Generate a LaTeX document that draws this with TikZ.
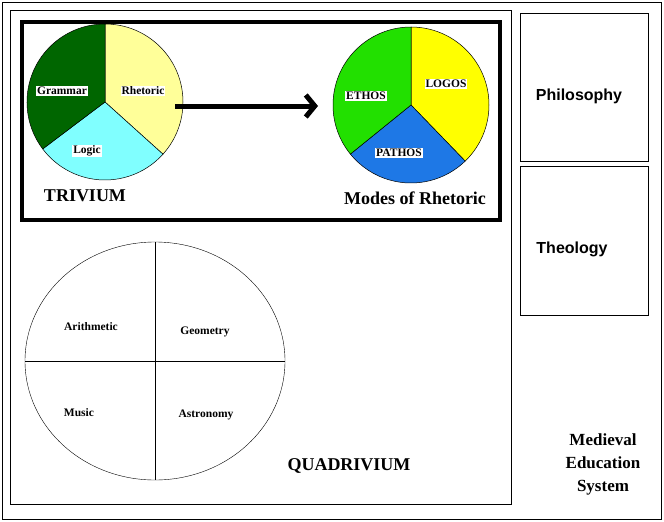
\documentclass[tikz,border=0pt]{standalone}
\usepackage{fontspec}
\setmainfont{Liberation Serif}
\setsansfont{Liberation Sans}
\usetikzlibrary{arrows.meta}
\definecolor{gram}{HTML}{006600}
\definecolor{rhet}{HTML}{FFFF99}
\definecolor{logi}{HTML}{80FFFF}
\definecolor{etho}{HTML}{22E000}
\definecolor{logo}{HTML}{FFFF00}
\definecolor{path}{HTML}{1E78E6}
\tikzset{
	lbl/.style={fill=white, inner sep=1pt, font=\bfseries\fontsize{11.5}{12}\selectfont},
	ttl/.style={font=\bfseries\fontsize{18}{20}\selectfont},
	side/.style={align=center, font=\bfseries\sffamily\fontsize{16}{18}\selectfont}
}
\begin{document}
\begin{tikzpicture}[x=1pt, y=-1pt]
	\useasboundingbox (0,0) rectangle (664,522);
	\fill[white] (0,0) rectangle (664,522);
	\draw (2,2) rectangle (661,519);
	\draw (10,10) rectangle (511,504);
	\draw (520,13) rectangle (648,161);
	\draw (520,166) rectangle (648,315);
	\draw[line width=4pt] (22,22) rectangle (500,220);
	% trivium
	\foreach \c/\a/\b in {rhet/90/-42, logi/-42/-143, gram/-143/-270}
	\filldraw[fill=\c, draw=black, line width=0.5pt] (105,102) -- +(\a:78 and -78)
	arc[start angle=\a, end angle=\b, x radius=78, y radius=-78] -- cycle;
	% modes of rhetoric
	\foreach \c/\a/\b in {logo/90/-46, path/-46/-141, etho/-141/-270}
	\filldraw[fill=\c, draw=black, line width=0.5pt] (411,105) -- +(\a:78 and -78)
	arc[start angle=\a, end angle=\b, x radius=78, y radius=-78] -- cycle;
	\node[lbl] (gram) at (62,91) {Grammar};
	\node[lbl] (rhet) at (143,91) {Rhetoric};
	\node[lbl] (logi) at (87,151) {Logic};
	\node[lbl] (etho) at (366,96) {ETHOS};
	\node[lbl] (logo) at (446,84) {LOGOS};
	\node[lbl] (path) at (399,153) {PATHOS};
	\node[ttl] (triv) at (85,196) {TRIVIUM};
	\node[ttl] (mode) at (415,198) {Modes of Rhetoric};
	\coordinate (from) at (175,106);
	\coordinate (to) at (318,106);
	\draw[line width=5pt, -{Straight Barb[length=9pt, width=22pt]}] (from) -- (to);
	% quadrivium
	\draw (155,361) ellipse[x radius=130, y radius=119];
	\draw (155,242) -- (155,480);
	\draw (25,361) -- (285,361);
	\node[lbl] (arit) at (91,327) {Arithmetic};
	\node[lbl] (geom) at (205,332) {Geometry};
	\node[lbl] (musi) at (79,413) {Music};
	\node[lbl] (astr) at (206,415) {Astronomy};
	\node[ttl] (quad) at (349,466) {QUADRIVIUM};
	\node[side] (phil) at (579,96) {Philosophy};
	\node[side] (theo) at (572,249) {Theology};
	\node[side, font=\bfseries\fontsize{17}{23}\selectfont] (medi) at (603,464) {Medieval\\Education\\System};
\end{tikzpicture}
\end{document}
